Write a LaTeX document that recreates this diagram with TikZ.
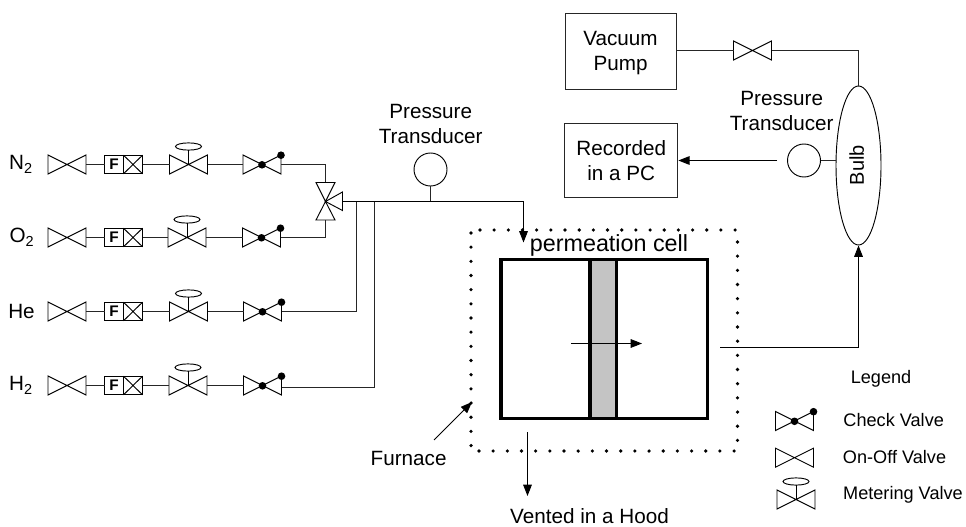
\documentclass[tikz,border=0pt]{standalone}
\usepackage{fontspec}
\setmainfont{Liberation Sans}
\usetikzlibrary{arrows.meta,shapes.geometric}
\tikzset{
  x=0.75pt,y=-0.75pt,
  every path/.style={line width=0.7pt,line join=miter},
  pipe/.style={draw=black!85},
  flow/.style={draw=black,-{Triangle[length=8.5pt,width=6.5pt]}},
  heavy/.style={draw=black,line width=2.4pt},
  main/.style={font=\fontsize{15.5}{18.75}\selectfont,inner sep=0pt,align=center},
  leg/.style={font=\fontsize{13.6}{16}\selectfont,inner sep=0pt,anchor=base west},
  boxnode/.style={draw=black!85,rectangle,inner sep=0pt,align=center,font=\fontsize{15.5}{18.75}\selectfont},
  gauge/.style={draw=black,circle,minimum size=24.75pt,inner sep=0pt},
  onoff/.pic={
    \draw (-19,-9.5) -- (19,9.5) -- (19,-9.5) -- (-19,9.5) -- cycle;
    \coordinate (-w) at (-19,0); \coordinate (-e) at (19,0);
  },
  meter/.pic={
    \draw (-19,-9.5) -- (19,9.5) -- (19,-9.5) -- (-19,9.5) -- cycle;
    \draw (0,0) -- (0,-14.5);
    \draw (0,-18) ellipse [x radius=13,y radius=3.6];
    \coordinate (-w) at (-19,0); \coordinate (-e) at (19,0);
  },
  checkv/.pic={
    \draw (-19,-9.5) -- (19,9.5) -- (19,-9.5) -- (-19,9.5) -- cycle;
    \fill (0,0.3) circle [radius=3.8];
    \fill (19,-9.3) circle [radius=3.8];
    \coordinate (-w) at (-19,0); \coordinate (-e) at (19,0);
  },
  threeway/.pic={
    \draw (0,0) -- (-9.5,-19) -- (9.5,-19) -- cycle;
    \draw (0,0) -- (-9.5,18.5) -- (9.5,18.5) -- cycle;
    \draw (0,0) -- (17,-9.5) -- (17,9) -- cycle;
    \coordinate (-n) at (0,-19); \coordinate (-s) at (0,18.5); \coordinate (-e) at (17,0);
  },
  flowmeter/.pic={
    \draw (-19,-9.3) rectangle (19,9.3);
    \draw (0,-9.3) -- (0,9.3);
    \draw (0,-9.3) -- (19,9.3) (0,9.3) -- (19,-9.3);
    \node[font=\fontsize{11.5}{12}\selectfont\bfseries,inner sep=0pt] at (-9.5,0) {F};
    \coordinate (-w) at (-19,0); \coordinate (-e) at (19,0);
  }
}
\begin{document}
\begin{tikzpicture}
\useasboundingbox (0,0) rectangle (966,527);

% gas rows
\foreach \r/\lab/\y/\a/\m/\c/\lx in {
  n/{N\textsubscript{2}}/164.5/67/188.5/262/21,
  o/{O\textsubscript{2}}/237.5/67/187/261.5/22,
  h/{He}/311.5/67/188.5/262.5/21.5,
  k/{H\textsubscript{2}}/385.5/67/188/262.5/21}{
  \node[main] (lab\r) at (\lx,\y) {\lab};
  \pic (v\r) at (\a,\y) {onoff};
  \pic (f\r) at (123.5,\y) {flowmeter};
  \pic (m\r) at (\m,\y) {meter};
  \pic (c\r) at (\c,\y) {checkv};
  \draw[pipe] (v\r-e) -- (f\r-w);
  \draw[pipe] (f\r-e) -- (m\r-w);
  \draw[pipe] (m\r-e) -- (c\r-w);
}

% selector valve and manifold
\pic (tw) at (325.5,201.5) {threeway};
\coordinate (jhe) at (356.5,201.5);
\coordinate (jh2) at (374.5,201.5);
\coordinate (jcell) at (523.5,201.5);
\draw[pipe] (cn-e) -| (tw-n);
\draw[pipe] (co-e) -| (tw-s);
\draw[pipe] (ch-e) -| (jhe);
\draw[pipe] (ck-e) ++(0,2) -| (jh2);

% pressure transducer 1
\node[main] (pt1) at (430.7,124) {Pressure\\Transducer};
\node[gauge] (g1) at (430.5,169.5) {};
\coordinate (g1j) at (430.5,201.5);
\draw[pipe] (g1.south) -- (g1j);

% furnace dots
\foreach \i in {0,...,15} \fill ({471},{233+\i*14.17}) circle [radius=1.8];
\foreach \i in {0,...,18} \fill ({480+\i*14.17},230) circle [radius=1.8];
\foreach \i in {0,...,14} \fill (737.5,{242+\i*14.17}) circle [radius=1.8];
\foreach \i in {0,...,18} \fill ({479+\i*14.17},451) circle [radius=1.8];

% permeation cell
\node[draw=none,fill=black!23,minimum width=19.8pt,minimum height=119.4pt,inner sep=0pt] (mem) at (603.2,339) {};
\draw[heavy] (501,259.3) rectangle (707.7,418.7);
\draw[heavy] (590,259.3) -- (590,418.7) (616.3,259.3) -- (616.3,418.7);
\node[main,font=\fontsize{17.5}{20}\selectfont,anchor=base] (pc) at (609,252) {permeation cell};
\coordinate (cellin) at (523.5,242.5);
\draw[flow] (tw-e) -- (jcell) -- (cellin);
\coordinate (ma) at (571,343.5);
\coordinate (mb) at (642,343.5);
\draw[flow] (ma) -- (mb);

% bulb
\node[draw=black,ellipse,minimum width=33.75pt,minimum height=119.25pt,inner sep=0pt] (bulb) at (858.5,165.5) {};
\node[main,font=\fontsize{15}{18}\selectfont,rotate=90] (bulbt) at (856.7,165) {Bulb};
\coordinate (cellout) at (720,347.5);
\draw[flow] (cellout) -| (bulb.south);

% vacuum side
\node[boxnode,minimum width=83.25pt,minimum height=57pt] (pump) at (620.5,51) {};
\node[main] (pumpt) at (620.5,53) {Vacuum\\Pump};
\pic (vv) at (752.5,50.5) {onoff};
\coordinate (vvb) at (858.5,50.5);
\draw[pipe] (pump.east |- vv-w) -- (vv-w);
\draw[pipe] (vv-e) -- (vvb) -- (bulb.north);

% recording side
\node[boxnode,minimum width=85pt,minimum height=55pt] (pc2) at (621.2,160.5) {Recorded\\in a PC};
\node[main] (pt2) at (781.7,111) {Pressure\\Transducer};
\node[gauge] (g2) at (804,160.5) {};
\draw[pipe] (g2.east) -- (bulb.west |- g2.east);
\coordinate (rec) at (777,160.5);
\draw[flow] (rec) -- (pc2.east |- rec);

% furnace label and vent
\node[main,anchor=base east] (fur) at (447,465) {Furnace};
\coordinate (fa) at (434,440);
\coordinate (fb) at (472,402);
\draw[flow] (fa) -- (fb);
\coordinate (va) at (527.5,432);
\coordinate (vb) at (527.5,496);
\draw[flow] (va) -- (vb);
\node[main,anchor=base] (vent) at (589.5,523.5) {Vented in a Hood};

% legend
\node[main,font=\fontsize{13.6}{16}\selectfont,anchor=base] (lg) at (881,383) {Legend};
\pic (l1) at (794.5,421) {checkv};
\node[leg] (l1t) at (843,426) {Check Valve};
\pic (l2) at (794.5,457.7) {onoff};
\node[leg] (l2t) at (842.5,463) {On-Off Valve};
\pic (l3) at (796,499.5) {meter};
\node[leg] (l3t) at (842.7,499) {Metering Valve};
\end{tikzpicture}
\end{document}
